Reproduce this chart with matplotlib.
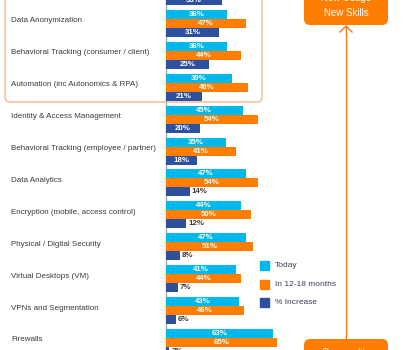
import numpy as np
import matplotlib.pyplot as plt
from matplotlib.patches import FancyBboxPatch, Rectangle

# Data (top row is cut off in the reference; only its % increase bar shows)
categories = ['', 'Data Anonymization', 'Behavioral Tracking (consumer / client)',
              'Automation (inc Autonomics & RPA)', 'Identity & Access Management',
              'Behavioral Tracking (employee / partner)', 'Data Analytics',
              'Encryption (mobile, access control)', 'Physical / Digital Security',
              'Virtual Desktops (VM)', 'VPNs and Segmentation', 'Firewalls']
today = [np.nan, 36, 36, 39, 45, 35, 47, 44, 47, 41, 43, 63]
future = [np.nan, 47, 44, 48, 54, 41, 54, 50, 51, 44, 46, 65]
increase = [33, 31, 25, 21, 20, 18, 14, 12, 8, 7, 6, 2]
series_names = ['Today', 'In 12-18 months', '% Increase']

c_today = '#00b9ec'
c_future = '#ff7d00'
c_inc = '#2d519e'
c_text = '#3a3a3a'
c_line = '#f47b20'

font = ['Liberation Sans', 'DejaVu Sans']

W, H = 405, 350
fig = plt.figure(figsize=(W / 100, H / 100), dpi=100)
fig.patch.set_facecolor('white')

# pixel overlay for decorations
deco = fig.add_axes([0, 0, 1, 1])
deco.set_xlim(0, W)
deco.set_ylim(H, 0)
deco.axis('off')

ax = fig.add_axes([0, 0, 1, 1])
ax.patch.set_alpha(0)
ax.axis('off')

px_per_pct = 1.7
x0 = 166
ax.set_xlim(-x0 / px_per_pct, (W - x0) / px_per_pct)
pitch = 31.9
first_center = 23.5
ax.set_ylim(1 + (H - first_center) / pitch, 1 - first_center / pitch)

y = np.arange(len(categories))
bh = 9 / pitch

ax.barh(y - bh, today, height=bh, color=c_today, zorder=3)
ax.barh(y, future, height=bh, color=c_future, zorder=3)
ax.barh(y + bh, increase, height=bh, color=c_inc, zorder=3)

val_font = dict(fontsize=5.7, family=font, fontweight='bold', va='center')
for i in range(len(categories)):
    for off, v in [(-bh, today[i]), (0, future[i])]:
        if not np.isnan(v):
            ax.text(v / 2, i + off, f'{v:.0f}%', color='white', ha='center', zorder=4, **val_font)
    v = increase[i]
    if v >= 15:
        ax.text(v / 2, i + bh, f'{v}%', color='white', ha='center', zorder=4, **val_font)
    else:
        ax.text(v + 1.2, i + bh, f'{v}%', color=c_text, ha='left', zorder=4, **val_font)
    ax.text(-(x0 - 11) / px_per_pct, i - 0.08, categories[i], color=c_text, fontsize=5.8,
            family=font, va='center', ha='left')

# axis line
deco.plot([x0, x0], [0, H], color='#a8a8a8', lw=1, zorder=2)

# group box around the first rows
deco.add_patch(FancyBboxPatch((5, -20), 257, 122, boxstyle='round,pad=0,rounding_size=5',
                              fc='none', ec='#f8b48c', lw=1, zorder=1))

# right side boxes and arrow
deco.add_patch(FancyBboxPatch((304, -20), 84, 45, boxstyle='round,pad=0,rounding_size=6',
                              fc=c_future, ec='none', zorder=2))
deco.text(346, -2, 'New Usage', color='white', fontsize=7, ha='center', va='center', family=font)
deco.text(346, 13, 'New Skills', color='white', fontsize=7, ha='center', va='center', family=font)
deco.add_patch(FancyBboxPatch((304, 339), 84, 30, boxstyle='round,pad=0,rounding_size=6',
                              fc=c_future, ec='none', zorder=2))
deco.text(346, 353, 'Commodity', color='white', fontsize=7, ha='center', va='center', family=font)
deco.plot([346, 346], [26, 339], color=c_line, lw=1)
deco.plot([340, 346, 352], [32, 26, 32], color=c_line, lw=1)

# legend
for k, (name, col) in enumerate(zip(series_names, [c_today, c_future, c_inc])):
    yy = 261 + k * 18.5
    deco.add_patch(Rectangle((260, yy), 9, 9, color=col, zorder=3))
    deco.text(275, yy + 4.5, name, color='#3a3f55', fontsize=6, family=font,
              va='center', ha='left')

fig.savefig('out.png', dpi=100, facecolor='white')
